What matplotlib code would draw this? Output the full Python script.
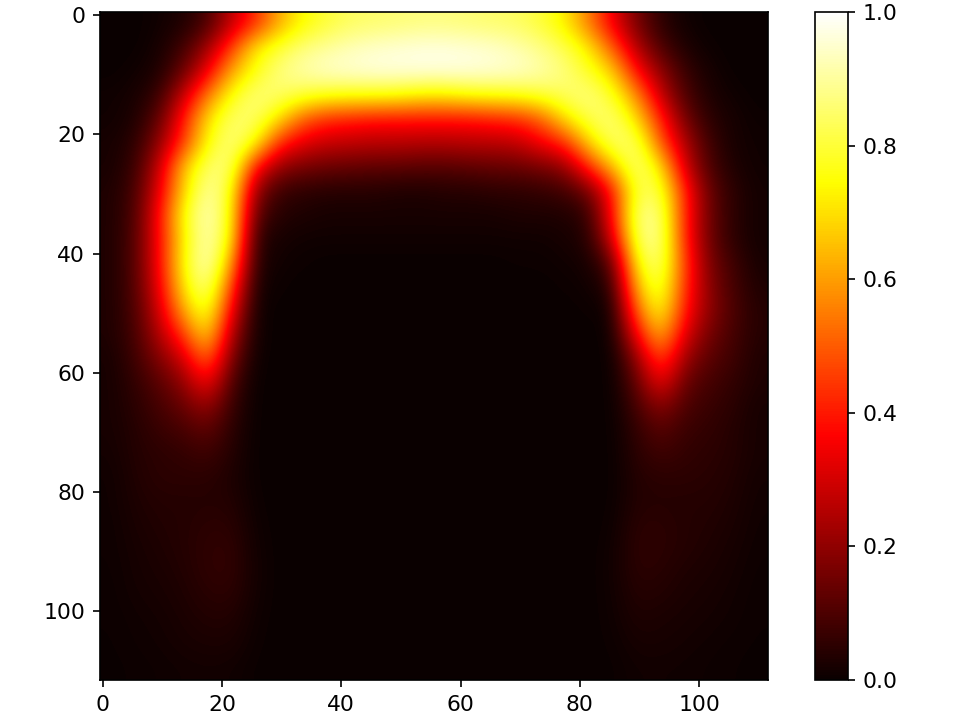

import numpy as np
import matplotlib
matplotlib.use("Agg")
import matplotlib.pyplot as plt

GRID_SIZE = 112

# one row per 4 grid rows, one value per 4 grid columns
heat_rows = [
    [0, 0, .01, .03, .09, .27, .42, .62, .74, .80, .84, .85, .86, .87, .87, .86, .85, .84, .80, .72, .55, .34, .16, .05, .01, 0, 0, 0],
    [0, 0, .02, .08, .22, .45, .72, .80, .87, .90, .93, .95, .96, .97, .97, .96, .95, .92, .88, .82, .72, .50, .25, .10, .03, .005, 0, 0],
    [0, .01, .03, .14, .34, .62, .76, .87, .92, .95, .96, .97, .97, .97, .97, .97, .96, .95, .92, .87, .78, .68, .38, .20, .07, .02, 0, 0],
    [.01, .02, .07, .28, .55, .76, .87, .85, .80, .77, .76, .76, .75, .72, .72, .75, .76, .77, .80, .84, .88, .78, .58, .28, .10, .03, .01, 0],
    [.01, .03, .13, .40, .70, .85, .85, .70, .50, .42, .40, .38, .38, .38, .38, .38, .40, .42, .50, .70, .82, .87, .70, .42, .16, .05, .02, .005],
    [.02, .05, .20, .45, .75, .88, .76, .42, .32, .28, .27, .26, .26, .25, .25, .26, .26, .27, .35, .42, .68, .85, .85, .50, .25, .08, .02, .01],
    [.02, .07, .28, .66, .85, .87, .38, .20, .16, .14, .13, .12, .12, .11, .11, .12, .13, .14, .16, .20, .42, .65, .88, .72, .30, .10, .03, .01],
    [.03, .09, .33, .68, .92, .78, .20, .07, .05, .04, .04, .04, .03, .03, .04, .04, .05, .05, .06, .08, .15, .40, .82, .82, .42, .14, .05, .015],
    [.03, .10, .38, .76, .95, .76, .12, .04, .03, .02, .02, .02, .02, .02, .02, .02, .02, .03, .03, .03, .06, .38, .88, .88, .42, .15, .05, .015],
    [.03, .11, .37, .73, .94, .75, .05, .02, .01, .01, .01, .01, .01, .01, .01, .01, .01, .01, .01, .02, .04, .30, .85, .90, .42, .15, .05, .015],
    [.03, .11, .37, .75, .96, .62, .04, .01, .005, 0, 0, 0, 0, 0, 0, 0, 0, .005, .005, .01, .02, .12, .76, .88, .46, .17, .08, .02],
    [.03, .11, .34, .72, .90, .48, .02, .005, 0, 0, 0, 0, 0, 0, 0, 0, 0, 0, 0, .005, .01, .05, .65, .84, .44, .19, .09, .03],
    [.03, .10, .30, .62, .82, .36, .01, 0, 0, 0, 0, 0, 0, 0, 0, 0, 0, 0, 0, 0, .005, .01, .52, .78, .40, .20, .10, .04],
    [.03, .09, .25, .45, .72, .25, .01, 0, 0, 0, 0, 0, 0, 0, 0, 0, 0, 0, 0, 0, 0, .005, .36, .66, .32, .16, .09, .04],
    [.02, .08, .18, .30, .55, .17, .005, 0, 0, 0, 0, 0, 0, 0, 0, 0, 0, 0, 0, 0, 0, 0, .20, .50, .22, .12, .08, .03],
    [.02, .06, .12, .20, .38, .10, 0, 0, 0, 0, 0, 0, 0, 0, 0, 0, 0, 0, 0, 0, 0, 0, .13, .36, .14, .09, .06, .03],
    [.02, .05, .09, .14, .22, .07, 0, 0, 0, 0, 0, 0, 0, 0, 0, 0, 0, 0, 0, 0, 0, 0, .09, .20, .10, .07, .05, .02],
    [.02, .04, .07, .09, .13, .05, 0, 0, 0, 0, 0, 0, 0, 0, 0, 0, 0, 0, 0, 0, 0, 0, .06, .12, .07, .06, .04, .02],
    [.015, .04, .05, .06, .08, .04, 0, 0, 0, 0, 0, 0, 0, 0, 0, 0, 0, 0, 0, 0, 0, 0, .05, .08, .06, .05, .04, .02],
    [.01, .035, .05, .05, .05, .03, .002, 0, 0, 0, 0, 0, 0, 0, 0, 0, 0, 0, 0, 0, 0, 0, .04, .05, .05, .045, .035, .015],
    [.01, .03, .04, .04, .04, .04, .004, 0, 0, 0, 0, 0, 0, 0, 0, 0, 0, 0, 0, 0, 0, .002, .04, .04, .04, .04, .03, .012],
    [.008, .025, .035, .04, .05, .05, .008, 0, 0, 0, 0, 0, 0, 0, 0, 0, 0, 0, 0, 0, 0, .005, .05, .05, .04, .035, .025, .01],
    [.008, .02, .03, .04, .055, .06, .012, 0, 0, 0, 0, 0, 0, 0, 0, 0, 0, 0, 0, 0, 0, .01, .055, .05, .04, .03, .02, .008],
    [.006, .018, .025, .035, .055, .06, .015, 0, 0, 0, 0, 0, 0, 0, 0, 0, 0, 0, 0, 0, 0, .012, .05, .045, .03, .025, .016, .006],
    [.005, .015, .02, .03, .045, .05, .012, 0, 0, 0, 0, 0, 0, 0, 0, 0, 0, 0, 0, 0, 0, .01, .04, .035, .025, .02, .012, .005],
    [.004, .01, .015, .025, .035, .035, .008, 0, 0, 0, 0, 0, 0, 0, 0, 0, 0, 0, 0, 0, 0, .008, .03, .025, .02, .015, .01, .004],
    [.003, .008, .012, .02, .025, .025, .005, 0, 0, 0, 0, 0, 0, 0, 0, 0, 0, 0, 0, 0, 0, .005, .02, .02, .015, .01, .006, .003],
    [.002, .005, .008, .012, .014, .012, .002, 0, 0, 0, 0, 0, 0, 0, 0, 0, 0, 0, 0, 0, 0, .002, .012, .012, .01, .007, .004, .002],
]

heat = np.array(heat_rows)

plt.rcParams['font.size'] = 10.5

fig = plt.figure(figsize=(6.4, 4.8), dpi=150)
ax = fig.add_axes([99.5 / 960, 40 / 720, 668.5 / 960, 668 / 720])
cax = fig.add_axes([815 / 960, 40 / 720, 33 / 960, 668 / 720])

im = ax.imshow(heat, cmap='hot', vmin=0, vmax=1, interpolation='bicubic',
               extent=(-0.5, GRID_SIZE - 0.5, GRID_SIZE - 0.5, -0.5))
fig.colorbar(im, cax=cax)
plt.savefig('out.png', dpi=150)
